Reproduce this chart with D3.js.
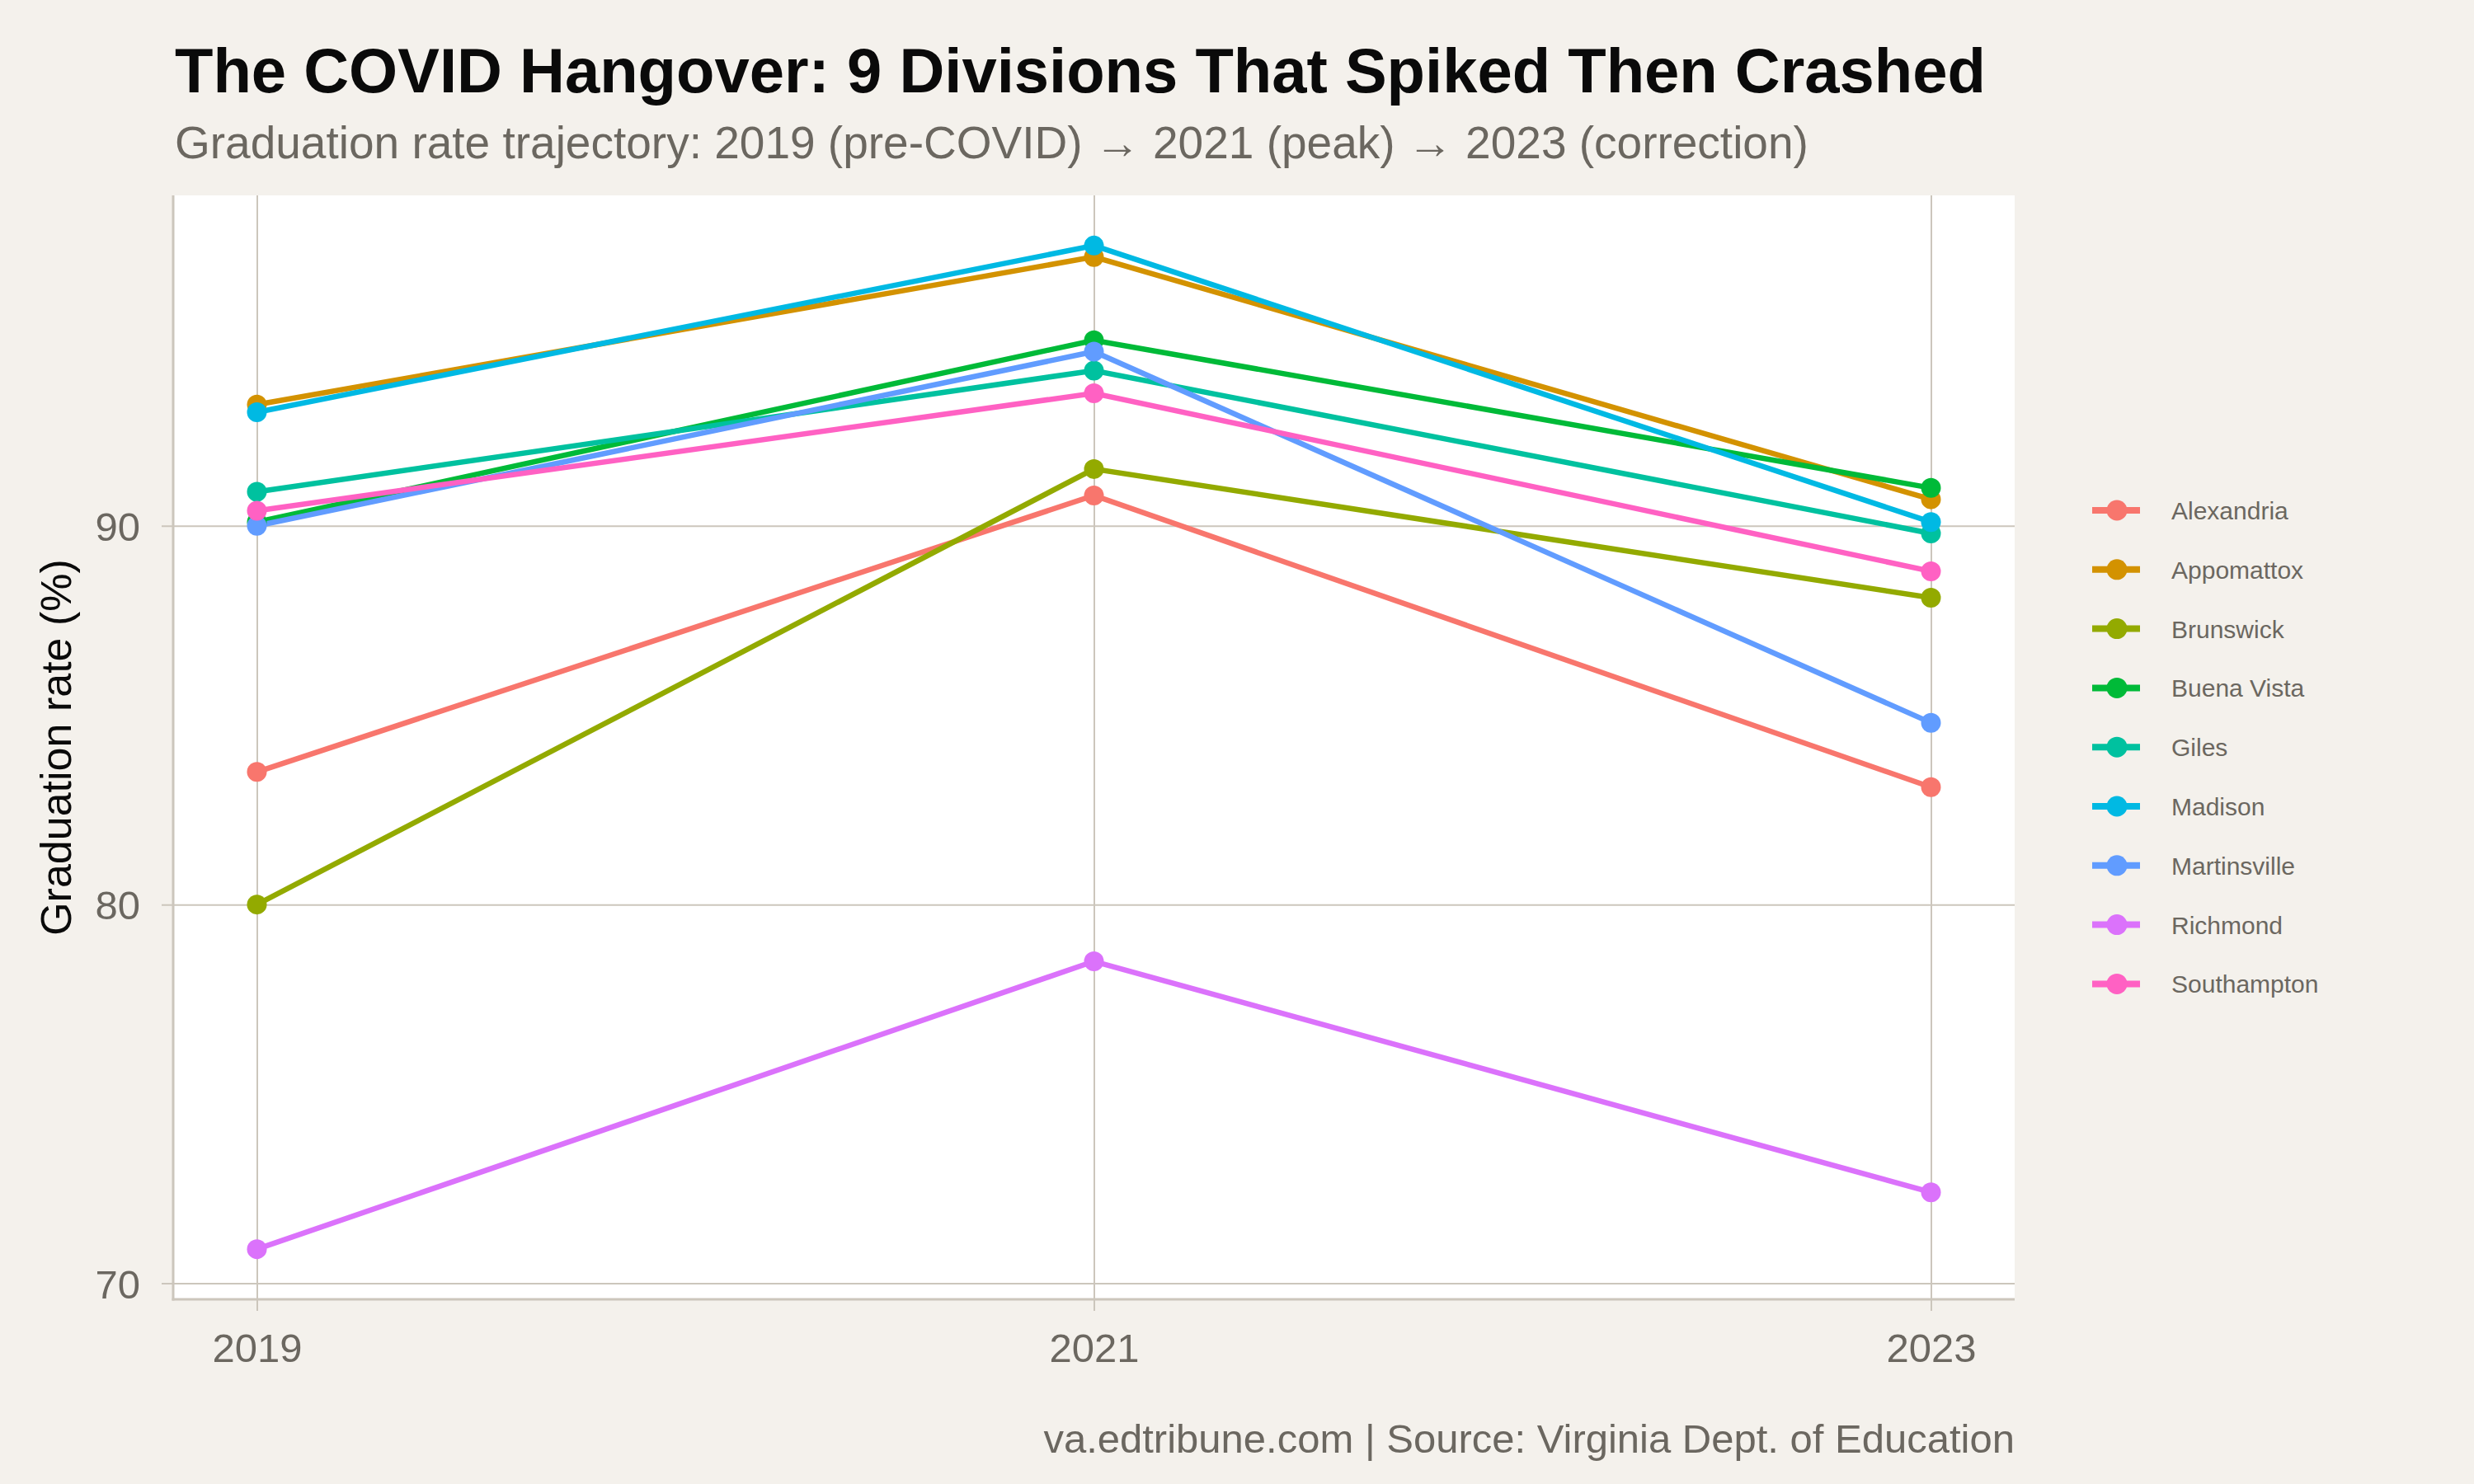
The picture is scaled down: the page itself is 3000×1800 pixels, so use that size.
<!DOCTYPE html>
<html>
<head>
<meta charset="utf-8">
<script src="https://cdn.jsdelivr.net/npm/d3@7"></script>
<style>
  body { margin: 0; background: #F4F1EC; }
  text { font-family: "Liberation Sans", Arial, Helvetica, sans-serif; }
</style>
</head>
<body>
<svg id="chart" width="3000" height="1800"></svg>
<script>
// data
const years = [2019, 2021, 2023];
const divisions = ["Alexandria", "Appomattox", "Brunswick", "Buena Vista", "Giles",
  "Madison", "Martinsville", "Richmond", "Southampton"];
const rate2019 = [83.5, 93.2, 80.0, 90.1, 90.9, 93.0, 90.0, 70.9, 90.4];
const rate2021 = [90.8, 97.1, 91.5, 94.9, 94.1, 97.4, 94.6, 78.5, 93.5];
const rate2023 = [83.1, 90.7, 88.1, 91.0, 89.8, 90.1, 84.8, 72.4, 88.8];
const yTicks = [70, 80, 90];
const palette = ["#F8766D", "#D39200", "#93AA00", "#00BA38", "#00C19F",
  "#00B9E3", "#619CFF", "#DB72FB", "#FF61C3"];

(function() {
	const svg = d3.select('#chart');
	const grid = '#CCC6BC', grey = '#6B6760';

	svg.append('rect').attr('width', 3000).attr('height', 1800).attr('fill', '#F4F1EC');

	const panel = { left: 210, right: 2443, top: 237, bottom: 1576 };

	const series = divisions.map(function(name, i) {
		return {
			name: name,
			values: [rate2019[i], rate2021[i], rate2023[i]].map(function(v, j) { return { year: years[j], rate: v }; })
		};
	});

	// ggplot-style 5% expansion
	const xr = d3.extent(years), xpad = (xr[1] - xr[0]) * 0.05;
	const allRates = rate2019.concat(rate2021, rate2023);
	const yr = d3.extent(allRates), ypad = (yr[1] - yr[0]) * 0.05;

	const x = d3.scaleLinear().domain([xr[0] - xpad, xr[1] + xpad]).range([panel.left, panel.right]);
	const y = d3.scaleLinear().domain([yr[0] - ypad, yr[1] + ypad]).range([panel.bottom, panel.top]);
	const color = d3.scaleOrdinal().domain(divisions).range(palette);

	svg.append('rect')
		.attr('x', panel.left).attr('y', panel.top)
		.attr('width', panel.right - panel.left).attr('height', panel.bottom - panel.top)
		.attr('fill', '#fff');

	// grid lines + ticks via axes
	const xAxis = svg.append('g')
		.attr('transform', 'translate(0,' + panel.bottom + ')')
		.call(d3.axisBottom(x).tickValues(years).tickFormat(d3.format('d'))
			.tickSizeInner(-(panel.bottom - panel.top)).tickSizeOuter(0).tickPadding(0));
	xAxis.select('.domain').remove();
	xAxis.selectAll('.tick line').attr('stroke', grid).attr('stroke-width', 2)
		.attr('y1', 14);
	xAxis.selectAll('.tick text').attr('fill', grey).attr('font-size', 49)
		.attr('y', 76).attr('dy', 0);

	const yAxis = svg.append('g')
		.attr('transform', 'translate(' + panel.left + ',0)')
		.call(d3.axisLeft(y).tickValues(yTicks)
			.tickSizeInner(-(panel.right - panel.left)).tickSizeOuter(0).tickPadding(0));
	yAxis.select('.domain').remove();
	yAxis.selectAll('.tick line').attr('stroke', grid).attr('stroke-width', 2)
		.attr('x1', -14);
	yAxis.selectAll('.tick text').attr('fill', grey).attr('font-size', 49)
		.attr('x', -40).attr('dy', '0.36em');

	// axis lines
	svg.append('line').attr('x1', panel.left).attr('x2', panel.left)
		.attr('y1', panel.top).attr('y2', panel.bottom + 1.5)
		.attr('stroke', grid).attr('stroke-width', 3);
	svg.append('line').attr('x1', panel.left - 1.5).attr('x2', panel.right)
		.attr('y1', panel.bottom).attr('y2', panel.bottom)
		.attr('stroke', grid).attr('stroke-width', 3);

	const line = d3.line().x(function(d) { return x(d.year); }).y(function(d) { return y(d.rate); });

	svg.append('g').selectAll('path')
		.data(series)
		.enter().append('path')
		.attr('d', function(d) { return line(d.values); })
		.attr('fill', 'none')
		.attr('stroke', function(d) { return color(d.name); })
		.attr('stroke-width', 6.5);

	const pts = svg.append('g').selectAll('g')
		.data(series)
		.enter().append('g')
		.attr('fill', function(d) { return color(d.name); });
	pts.selectAll('circle')
		.data(function(d) { return d.values; })
		.enter().append('circle')
		.attr('cx', function(d) { return x(d.year); })
		.attr('cy', function(d) { return y(d.rate); })
		.attr('r', 12);

	// legend
	const legend = svg.append('g').attr('transform', 'translate(2537,619)');
	const item = legend.selectAll('g')
		.data(divisions)
		.enter().append('g')
		.attr('transform', function(d, i) { return 'translate(0,' + (i * 71.8) + ')'; });
	item.append('line').attr('x1', 0).attr('x2', 58)
		.attr('stroke', function(d) { return color(d); }).attr('stroke-width', 8);
	item.append('circle').attr('cx', 30).attr('r', 12.5)
		.attr('fill', function(d) { return color(d); });
	item.append('text').attr('x', 96).attr('y', 11)
		.attr('fill', grey).attr('font-size', 30)
		.text(function(d) { return d; });

	// titles
	svg.append('text').attr('x', 212).attr('y', 112)
		.attr('font-size', 76).attr('font-weight', 'bold').attr('fill', '#0A0A0A')
		.text('The COVID Hangover: 9 Divisions That Spiked Then Crashed');
	svg.append('text').attr('x', 212).attr('y', 192)
		.attr('font-size', 55).attr('fill', grey)
		.text('Graduation rate trajectory: 2019 (pre-COVID) \u2192 2021 (peak) \u2192 2023 (correction)');
	svg.append('text')
		.attr('transform', 'translate(86,' + ((panel.top + panel.bottom) / 2) + ') rotate(-90)')
		.attr('text-anchor', 'middle').attr('font-size', 52).attr('fill', '#0A0A0A')
		.text('Graduation rate (%)');
	svg.append('text').attr('x', panel.right).attr('y', 1762)
		.attr('text-anchor', 'end').attr('font-size', 49).attr('fill', grey)
		.text('va.edtribune.com | Source: Virginia Dept. of Education');
})();
</script>
</body>
</html>
